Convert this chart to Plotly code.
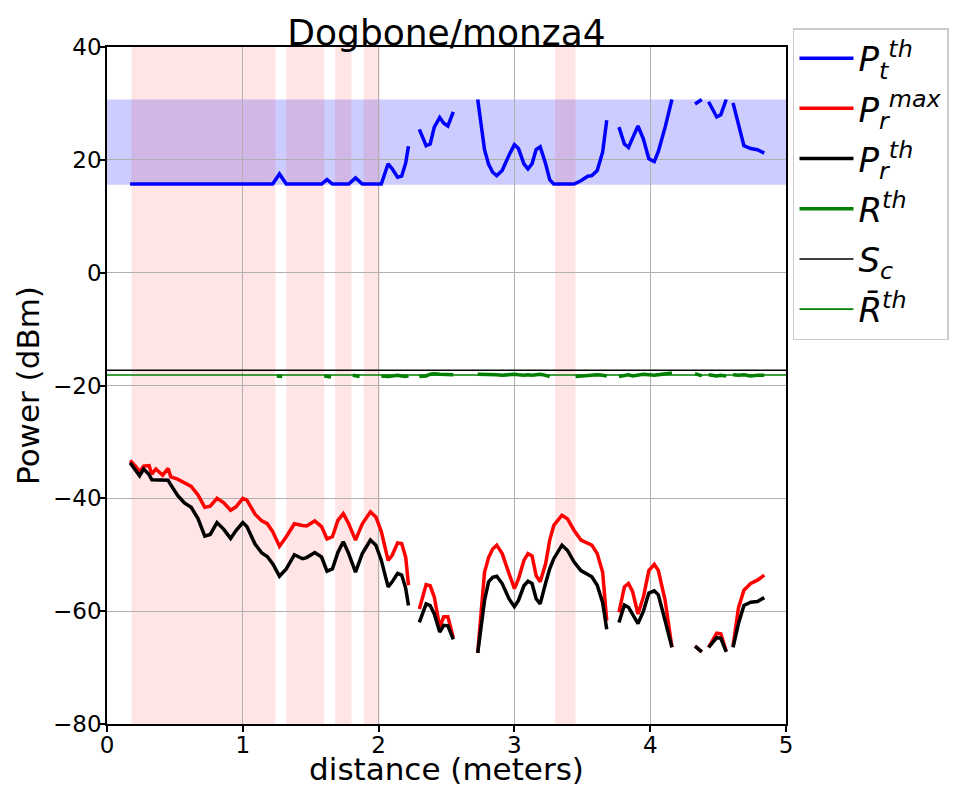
import plotly.graph_objects as go

# ---------------- data ----------------
distance = [
    0.17, 0.21, 0.24, 0.27, 0.31, 0.33, 0.36, 0.41, 0.45, 0.47,
    0.52, 0.57, 0.62, 0.67, 0.72, 0.76, 0.81, 0.86, 0.91, 0.95,
    1.00, 1.03, 1.09, 1.14, 1.18, 1.22, 1.27, 1.32, 1.38, 1.44,
    1.47, 1.53, 1.58, 1.62, 1.66, 1.70, 1.74, 1.78, 1.83, 1.88,
    1.94, 1.98, 2.02, 2.07, 2.10, 2.14, 2.17, 2.20, 2.22,
    2.26,
    2.30, 2.35, 2.38, 2.41, 2.45, 2.48, 2.51, 2.55,
    2.64,
    2.73, 2.78, 2.81, 2.84, 2.87, 2.91, 2.96, 3.00, 3.03, 3.07,
    3.10, 3.13, 3.16, 3.19, 3.23, 3.26, 3.29, 3.35, 3.39, 3.44,
    3.49, 3.54, 3.57, 3.61, 3.65, 3.68,
    3.72,
    3.77, 3.81, 3.84, 3.87, 3.91, 3.95, 3.99, 4.03, 4.06, 4.11, 4.16,
    4.25,
    4.33, 4.38,
    4.40,
    4.43, 4.49, 4.52, 4.56,
    4.58,
    4.61, 4.65, 4.69, 4.74, 4.79, 4.84,
]

pt_th = [
    15.7, 15.7, 15.7, 15.7, 15.7, 15.7, 15.7, 15.7, 15.7, 15.7,
    15.7, 15.7, 15.7, 15.7, 15.7, 15.7, 15.7, 15.7, 15.7, 15.7,
    15.7, 15.7, 15.7, 15.7, 15.7, 15.7, 17.5, 15.7, 15.7, 15.7,
    15.7, 15.7, 15.7, 16.5, 15.7, 15.7, 15.7, 15.7, 16.8, 15.7,
    15.7, 15.7, 15.7, 19.3, 18.4, 16.9, 17.1, 19.5, 22.4,
    None,
    25.4, 22.5, 22.8, 25.8, 27.5, 26.5, 26.0, 28.5,
    None,
    30.7, 21.8, 19.2, 17.8, 17.2, 18.1, 20.8, 22.7, 22.0, 19.3,
    18.4, 19.3, 21.8, 22.3, 19.3, 16.5, 15.7, 15.7, 15.7, 15.7,
    16.3, 17.1, 17.2, 18.1, 21.4, 27.0,
    None,
    25.8, 22.8, 22.2, 24.0, 26.0, 23.7, 20.2, 19.7, 21.5, 25.8, 30.7,
    None,
    29.9, 30.7,
    None,
    30.3, 27.6, 28.0, 30.7,
    None,
    30.1, 26.1, 22.5, 22.0, 21.8, 21.2,
]

pr_max = [
    -33.3, -34.3, -35.3, -34.3, -34.2, -35.7, -34.8, -35.9, -34.7, -36.2,
    -36.6, -37.3, -37.9, -39.4, -41.6, -41.4, -40.0, -40.8, -42.1, -41.5,
    -40.0, -40.3, -42.8, -44.0, -44.5, -45.9, -48.5, -46.8, -44.5, -44.8,
    -44.9, -44.0, -45.0, -47.2, -46.8, -43.9, -42.7, -44.5, -47.4, -44.5,
    -42.4, -43.3, -45.9, -51.0, -50.1, -47.9, -48.0, -50.5, -55.4,
    None,
    -59.6, -55.3, -55.5, -57.5, -62.8, -61.0, -61.0, -64.7,
    None,
    -67.4, -53.1, -50.5, -49.0, -48.3, -49.8, -53.3, -56.0, -54.3, -51.0,
    -49.8, -50.2, -53.7, -54.8, -51.6, -47.4, -44.8, -43.0, -43.6, -45.7,
    -47.4, -48.0, -48.3, -49.8, -53.1, -61.7,
    None,
    -60.2, -55.7, -55.1, -56.5, -60.5, -57.5, -52.8, -51.7, -52.8, -58.1, -66.4,
    None,
    -66.2, -67.2,
    None,
    -66.4, -63.9, -64.0, -67.1,
    None,
    -66.2, -59.4, -56.3, -55.1, -54.5, -53.6,
]

pr_th = [
    -33.7, -35.0, -36.0, -34.8, -35.8, -36.7, -36.7, -36.7, -36.8, -37.6,
    -39.5, -40.8, -41.6, -43.6, -46.7, -46.4, -44.3, -45.5, -47.1, -45.7,
    -44.3, -45.0, -48.1, -49.7, -50.3, -51.6, -53.8, -52.5, -50.0, -50.7,
    -50.5, -49.6, -50.4, -52.9, -52.5, -49.6, -47.7, -49.8, -53.1, -49.8,
    -47.4, -48.3, -51.0, -55.7, -54.8, -53.3, -53.6, -56.0, -59.0,
    None,
    -62.0, -58.7, -59.0, -60.5, -63.7, -62.5, -62.6, -65.0,
    None,
    -67.4, -58.1, -54.8, -54.0, -53.8, -55.1, -57.8, -59.2, -58.1, -55.5,
    -54.7, -55.1, -57.8, -58.7, -55.0, -52.5, -50.7, -48.3, -49.2, -51.3,
    -52.8, -53.6, -53.9, -55.4, -58.5, -63.2,
    None,
    -62.0, -58.9, -59.3, -60.5, -62.2, -60.0, -56.8, -56.4, -57.1, -61.7, -66.4,
    None,
    -66.2, -67.2,
    None,
    -66.4, -64.7, -64.8, -67.2,
    None,
    -66.4, -62.2, -59.0, -58.4, -58.3, -57.6,
]

rth_distance = [
    1.25, 1.29, None, 1.60, 1.65, None, 1.81, 1.86, None,
    2.02, 2.07, 2.10, 2.14, 2.17, 2.20, 2.22, None,
    2.30, 2.35, 2.38, 2.41, 2.45, 2.48, 2.51, 2.55, None,
    2.73, 2.78, 2.81, 2.84, 2.87, 2.91, 2.96, 3.00, 3.03, 3.07,
    3.10, 3.13, 3.16, 3.19, 3.23, 3.26, None,
    3.45, 3.49, 3.54, 3.57, 3.61, 3.65, 3.68, None,
    3.77, 3.81, 3.84, 3.87, 3.91, 3.95, 3.99, 4.03, 4.06, 4.11, 4.16, None,
    4.33, 4.38, None,
    4.43, 4.49, 4.52, 4.56, None,
    4.61, 4.65, 4.69, 4.74, 4.79, 4.84,
]
r_th = [
    -18.3, -18.4, None, -18.3, -18.5, None, -18.2, -18.4, None,
    -18.3, -18.4, -18.3, -18.2, -18.3, -18.4, -18.3, None,
    -18.4, -18.3, -18.0, -17.9, -18.0, -18.0, -18.1, -18.1, None,
    -18.0, -18.0, -18.1, -18.0, -18.1, -18.2, -18.1, -18.0, -18.1, -18.2,
    -18.1, -18.2, -18.1, -18.0, -18.2, -18.4, None,
    -18.4, -18.3, -18.2, -18.2, -18.1, -18.2, -18.3, None,
    -18.4, -18.2, -18.1, -18.3, -18.2, -18.0, -18.1, -18.2, -18.1, -18.0, -17.8, None,
    -17.9, -18.3, None,
    -18.1, -18.3, -18.2, -18.3, None,
    -18.1, -18.2, -18.1, -18.3, -18.2, -18.2,
]

s_c = -17.3
r_th_mean = -18.15
pt_band = [15.6, 30.7]
shaded_starts = [0.18, 1.32, 1.68, 1.89, 3.30]
shaded_ends = [1.24, 1.60, 1.80, 2.01, 3.45]

x_range = [0, 5]
y_range = [-80, 40]
x_ticks = [0, 1, 2, 3, 4, 5]
y_ticks = [-80, -60, -40, -20, 0, 20, 40]

# ---------------- figure ----------------
FONT = "DejaVu Sans"
fig = go.Figure()

series = [
    (distance, pt_th, "blue", 3.5, "<i>P<sub>t</sub><sup>th</sup></i>"),
    (distance, pr_max, "red", 3.5, "<i>P<sub>r</sub><sup>max</sup></i>"),
    (distance, pr_th, "black", 3.5, "<i>P<sub>r</sub><sup>th</sup></i>"),
    (rth_distance, r_th, "green", 3.5, "<i>R<sup>th</sup></i>"),
    (x_range, [s_c, s_c], "black", 1.6, "<i>S<sub>c</sub></i>"),
    (x_range, [r_th_mean, r_th_mean], "green", 1.6, "<i>R\u0304<sup>th</sup></i>"),
]
for i, (xs, ys, col, w, nm) in enumerate(series):
    fig.add_trace(go.Scatter(x=xs, y=ys, mode="lines",
                             line=dict(color=col, width=w),
                             name=nm, legendgroup=f"g{i}"))

fig.add_hrect(y0=pt_band[0], y1=pt_band[1], fillcolor="rgba(0,0,255,0.2)",
              line_width=0, layer="below")
for s, e in zip(shaded_starts, shaded_ends):
    fig.add_vrect(x0=s, x1=e, fillcolor="rgba(255,0,0,0.1)",
                  line_width=0, layer="below")

axis_common = dict(
    showline=True, linecolor="black", linewidth=1.5, mirror=True,
    ticks="outside", ticklen=6, tickwidth=1.5, tickcolor="black",
    showgrid=True, gridcolor="#b0b0b0", gridwidth=1, zeroline=False,
    automargin=False,
    tickfont=dict(family=FONT, size=23, color="black"),
)

fig.update_layout(
    width=955, height=779,
    margin=dict(l=99, r=177, t=39, b=63),
    paper_bgcolor="white", plot_bgcolor="white",
    title=dict(text="Dogbone/monza4", x=0.5, xref="paper", xanchor="center",
               y=1, yref="paper", yanchor="bottom", pad=dict(b=2),
               font=dict(family=FONT, size=36, color="black")),
    xaxis=dict(range=x_range, tickvals=x_ticks, ticklabelstandoff=-6,
               title=dict(text="distance (meters)", standoff=8,
                          font=dict(family=FONT, size=31, color="black")),
               **axis_common),
    yaxis=dict(range=y_range, tickvals=y_ticks, ticklabelstandoff=-7,
               title=dict(text="Power (dBm)", standoff=4,
                          font=dict(family=FONT, size=31, color="black")),
               **axis_common),
    legend=dict(x=1.0103, xanchor="left", y=1.028, yanchor="top",
                bgcolor="white", bordercolor="#cccccc", borderwidth=1.5,
                font=dict(family=FONT, size=34, color="black"),
                itemwidth=54, tracegroupgap=3),
    showlegend=True,
)

fig.write_html("out.html")
